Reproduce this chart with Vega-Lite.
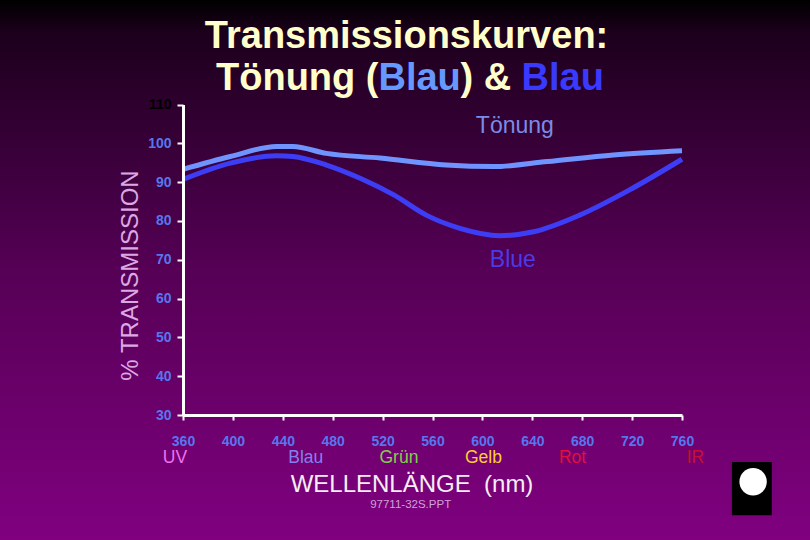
{
  "$schema": "https://vega.github.io/schema/vega-lite/v6.json",
  "width": 810,
  "height": 540,
  "autosize": "none",
  "padding": 0,
  "background": "#000000",
  "config": {
    "view": {
      "stroke": null,
      "fill": {
        "gradient": "linear",
        "x1": 0, "y1": 0, "x2": 0, "y2": 1,
        "stops": [
          {"offset": 0, "color": "#000000"},
          {"offset": 0.06, "color": "#1c001c"},
          {"offset": 0.5, "color": "#560056"},
          {"offset": 1, "color": "#800080"}
        ]
      }
    },
    "font": "Liberation Sans",
    "axis": {"grid": false, "zindex": 1}
  },
  "datasets": {
    "curves": [
      {"wl": 360, "t": 93.3, "series": "Tönung"},
      {"wl": 398, "t": 96.6, "series": "Tönung"},
      {"wl": 435, "t": 99.2, "series": "Tönung"},
      {"wl": 448, "t": 99.2, "series": "Tönung"},
      {"wl": 475, "t": 97.4, "series": "Tönung"},
      {"wl": 518, "t": 96.2, "series": "Tönung"},
      {"wl": 571, "t": 94.4, "series": "Tönung"},
      {"wl": 609, "t": 94.0, "series": "Tönung"},
      {"wl": 652, "t": 95.3, "series": "Tönung"},
      {"wl": 705, "t": 97.0, "series": "Tönung"},
      {"wl": 760, "t": 98.1, "series": "Tönung"},
      {"wl": 360, "t": 90.7, "series": "Blue"},
      {"wl": 398, "t": 94.9, "series": "Blue"},
      {"wl": 435, "t": 96.8, "series": "Blue"},
      {"wl": 448, "t": 96.6, "series": "Blue"},
      {"wl": 475, "t": 94.4, "series": "Blue"},
      {"wl": 502, "t": 91.0, "series": "Blue"},
      {"wl": 529, "t": 86.7, "series": "Blue"},
      {"wl": 555, "t": 81.5, "series": "Blue"},
      {"wl": 582, "t": 78.1, "series": "Blue"},
      {"wl": 614, "t": 76.2, "series": "Blue"},
      {"wl": 641, "t": 77.2, "series": "Blue"},
      {"wl": 678, "t": 81.5, "series": "Blue"},
      {"wl": 718, "t": 88.0, "series": "Blue"},
      {"wl": 760, "t": 95.9, "series": "Blue"}
    ],
    "curveLabels": [
      {"wl": 626, "t": 102.7, "text": "Tönung", "series": "Tönung"},
      {"wl": 624.4, "t": 68.1, "text": "Blue", "series": "Blue"}
    ],
    "bands": [
      {"wl": 353.6, "t": 17.6, "text": "UV"},
      {"wl": 458.4, "t": 17.6, "text": "Blau"},
      {"wl": 533.1, "t": 17.6, "text": "Grün"},
      {"wl": 600.8, "t": 17.6, "text": "Gelb"},
      {"wl": 672.3, "t": 17.6, "text": "Rot"},
      {"wl": 770.8, "t": 17.6, "text": "IR"}
    ],
    "footer": [{"wl": 542.5, "t": 6.0, "text": "97711-32S.PPT"}],
    "title1": [{"wl": 539.2, "t": 124.6, "text": "Transmissionskurven:"}],
    "title2": [
      {"wl": 386.45, "t": 113.8, "text": "Tönung (", "role": "plain"},
      {"wl": 516.7, "t": 113.8, "text": "Blau", "role": "light"},
      {"wl": 582.4, "t": 113.8, "text": ") &", "role": "plain"},
      {"wl": 631.4, "t": 113.8, "text": "Blau", "role": "dark"}
    ],
    "logo": [{"wl": 800, "wl2": 832, "t": 17.9, "t2": 4.2}],
    "globe": [{"wl": 817, "t": 12.8}]
  },
  "resolve": {"scale": {"color": "independent"}},
  "layer": [
    {
      "data": {"name": "curves"},
      "mark": {"type": "line", "strokeWidth": 5, "interpolate": "monotone", "strokeCap": "butt"},
      "encoding": {
        "x": {
          "field": "wl", "type": "quantitative",
          "scale": {"domain": [360, 760], "range": [183, 682], "nice": false, "zero": false},
          "axis": {
            "values": [360, 400, 440, 480, 520, 560, 600, 640, 680, 720, 760],
            "offset": -125,
            "zindex": 1,
            "domainColor": "#ffffff", "domainWidth": 3,
            "tickColor": "#ffffff", "tickWidth": 2, "tickSize": 5,
            "labelColor": "#5577ee", "labelFont": "Liberation Sans", "labelFontWeight": "bold", "labelFontSize": 14,
            "labelPadding": 25, "labelBaseline": "alphabetic", "labelFlush": false, "labelOverlap": false,
            "title": "WELLENLÄNGE\u00a0\u00a0(nm)",
            "titleFont": "Liberation Sans", "titleFontSize": 24, "titleFontWeight": "normal", "titleColor": "#f4eef4",
            "titleX": 411.5, "titleY": 76.7, "titleBaseline": "alphabetic", "titleAlign": "center"
          }
        },
        "y": {
          "field": "t", "type": "quantitative",
          "scale": {"domain": [30, 110], "range": [415, 104.5], "nice": false, "zero": false},
          "axis": {
            "values": [30, 40, 50, 60, 70, 80, 90, 100, 110],
            "offset": -183,
            "zindex": 1,
            "domainColor": "#ffffff", "domainWidth": 3,
            "tickColor": "#ffffff", "tickWidth": 2, "tickSize": 6,
            "labelColor": {"condition": {"test": "datum.value === 110", "value": "#000000"}, "value": "#5577ee"},
            "labelFont": "Liberation Sans", "labelFontWeight": "bold", "labelFontSize": 14, "labelPadding": 6,
            "title": "% TRANSMISSION",
            "titleFont": "Liberation Sans", "titleFontSize": 24, "titleFontWeight": "normal", "titleColor": "#dca8e4",
            "titleX": -46, "titleY": 275, "titleBaseline": "alphabetic", "titleAlign": "center", "titleAngle": -90
          }
        },
        "color": {
          "field": "series", "type": "nominal",
          "scale": {"domain": ["Tönung", "Blue"], "range": ["#7094ff", "#3d3df5"]},
          "legend": null
        }
      }
    },
    {
      "data": {"name": "curveLabels"},
      "mark": {"type": "text", "font": "Liberation Sans", "fontSize": 23, "align": "center", "baseline": "alphabetic"},
      "encoding": {
        "x": {"field": "wl", "type": "quantitative", "scale": {"domain": [360, 760], "range": [183, 682], "nice": false, "zero": false}},
        "y": {"field": "t", "type": "quantitative", "scale": {"domain": [30, 110], "range": [415, 104.5], "nice": false, "zero": false}},
        "text": {"field": "text"},
        "color": {"field": "series", "type": "nominal", "scale": {"domain": ["Tönung", "Blue"], "range": ["#7a8ce8", "#4a3be6"]}, "legend": null}
      }
    },
    {
      "data": {"name": "bands"},
      "mark": {"type": "text", "font": "Liberation Sans", "fontSize": 17.5, "align": "center", "baseline": "alphabetic"},
      "encoding": {
        "x": {"field": "wl", "type": "quantitative", "scale": {"domain": [360, 760], "range": [183, 682], "nice": false, "zero": false}},
        "y": {"field": "t", "type": "quantitative", "scale": {"domain": [30, 110], "range": [415, 104.5], "nice": false, "zero": false}},
        "text": {"field": "text"},
        "color": {"field": "text", "type": "nominal", "scale": {"domain": ["UV", "Blau", "Grün", "Gelb", "Rot", "IR"], "range": ["#f070f0", "#8080f0", "#80d050", "#ffcc33", "#e0103c", "#c8102e"]}, "legend": null}
      }
    },
    {
      "data": {"name": "footer"},
      "mark": {"type": "text", "font": "Liberation Sans", "fontSize": 11.5, "align": "center", "baseline": "alphabetic", "color": "#d0a0d8"},
      "encoding": {
        "x": {"field": "wl", "type": "quantitative", "scale": {"domain": [360, 760], "range": [183, 682], "nice": false, "zero": false}},
        "y": {"field": "t", "type": "quantitative", "scale": {"domain": [30, 110], "range": [415, 104.5], "nice": false, "zero": false}},
        "text": {"field": "text"}
      }
    },
    {
      "data": {"name": "title1"},
      "mark": {"type": "text", "font": "Liberation Sans", "fontSize": 38, "fontWeight": "bold", "align": "center", "baseline": "alphabetic", "color": "#ffffcc"},
      "encoding": {
        "x": {"field": "wl", "type": "quantitative", "scale": {"domain": [360, 760], "range": [183, 682], "nice": false, "zero": false}},
        "y": {"field": "t", "type": "quantitative", "scale": {"domain": [30, 110], "range": [415, 104.5], "nice": false, "zero": false}},
        "text": {"field": "text"}
      }
    },
    {
      "data": {"name": "title2"},
      "mark": {"type": "text", "font": "Liberation Sans", "fontSize": 38, "fontWeight": "bold", "align": "left", "baseline": "alphabetic"},
      "encoding": {
        "x": {"field": "wl", "type": "quantitative", "scale": {"domain": [360, 760], "range": [183, 682], "nice": false, "zero": false}},
        "y": {"field": "t", "type": "quantitative", "scale": {"domain": [30, 110], "range": [415, 104.5], "nice": false, "zero": false}},
        "text": {"field": "text"},
        "color": {"field": "role", "type": "nominal", "scale": {"domain": ["plain", "light", "dark"], "range": ["#ffffcc", "#6699ff", "#3a3aff"]}, "legend": null}
      }
    },
    {
      "data": {"name": "logo"},
      "mark": {"type": "rect", "color": "#000000"},
      "encoding": {
        "x": {"field": "wl", "type": "quantitative", "scale": {"domain": [360, 760], "range": [183, 682], "nice": false, "zero": false}},
        "x2": {"field": "wl2"},
        "y": {"field": "t", "type": "quantitative", "scale": {"domain": [30, 110], "range": [415, 104.5], "nice": false, "zero": false}},
        "y2": {"field": "t2"}
      }
    },
    {
      "data": {"name": "globe"},
      "mark": {"type": "point", "shape": "circle", "filled": true, "color": "#ffffff", "size": 750, "opacity": 1},
      "encoding": {
        "x": {"field": "wl", "type": "quantitative", "scale": {"domain": [360, 760], "range": [183, 682], "nice": false, "zero": false}},
        "y": {"field": "t", "type": "quantitative", "scale": {"domain": [30, 110], "range": [415, 104.5], "nice": false, "zero": false}}
      }
    }
  ]
}
